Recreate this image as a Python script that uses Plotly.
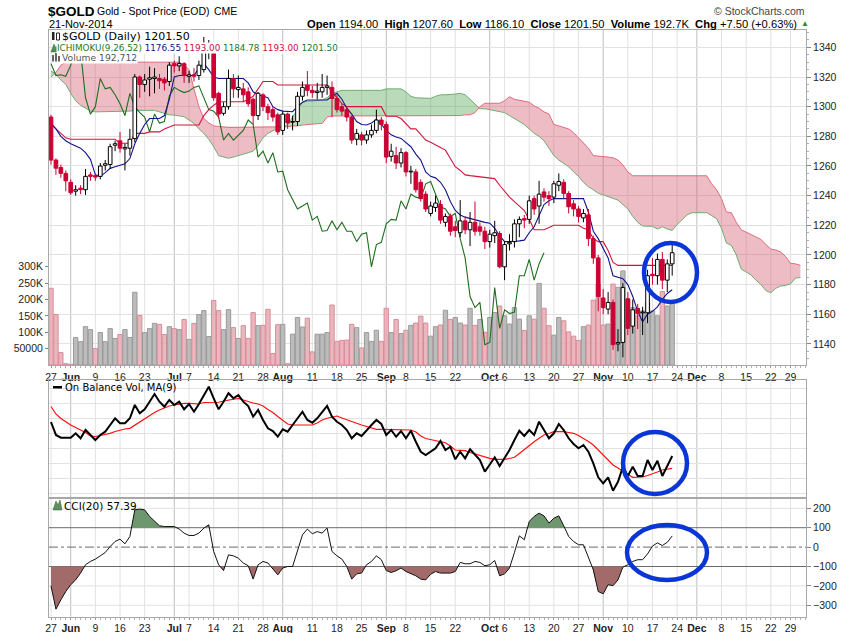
import plotly.graph_objects as go
import pandas as pd

# ---------------- data ----------------
HOLIDAYS = ["2014-07-04", "2014-09-01", "2014-11-27", "2014-12-25"]
START, END = "2014-05-27", "2014-12-31"

TICK_DATES = ["2014-05-27", "2014-06-02", "2014-06-09", "2014-06-16", "2014-06-23",
              "2014-07-01", "2014-07-07", "2014-07-14", "2014-07-21", "2014-07-28",
              "2014-08-01", "2014-08-11", "2014-08-18", "2014-08-25", "2014-09-02",
              "2014-09-08", "2014-09-15", "2014-09-22", "2014-10-01", "2014-10-06",
              "2014-10-13", "2014-10-20", "2014-10-27", "2014-11-03", "2014-11-10",
              "2014-11-17", "2014-11-24", "2014-12-01", "2014-12-08", "2014-12-15",
              "2014-12-22", "2014-12-29"]
TICK_LABELS = ["27", "Jun", "9", "16", "23", "Jul", "7", "14", "21", "28", "Aug", "11",
               "18", "25", "Sep", "8", "15", "22", "Oct", "6", "13", "20", "27", "Nov",
               "10", "17", "24", "Dec", "8", "15", "22", "29"]
MONTHS = ["Jun", "Jul", "Aug", "Sep", "Oct", "Nov", "Dec"]

OPEN = [1293, 1264, 1259, 1255, 1249, 1243, 1245, 1244, 1254, 1253.5,
        1253, 1260.5, 1261, 1274, 1277, 1271.5, 1272, 1278.5, 1320, 1315,
        1318.5, 1319, 1319, 1318.5, 1317, 1329, 1327.5, 1329, 1320.5, 1321.5,
        1321, 1325, 1337, 1336, 1309, 1295.5, 1300, 1319, 1311.5, 1312,
        1310, 1305, 1294, 1308, 1300, 1298, 1294.5, 1284, 1295, 1289.5,
        1290, 1307, 1314.5, 1311, 1309.5, 1310, 1313, 1313, 1305.5, 1300,
        1298, 1293, 1278, 1281, 1277.5, 1281, 1284, 1291, 1288, 1266.5,
        1267, 1262, 1269, 1256, 1256, 1249, 1241, 1228, 1232, 1234,
        1222, 1226, 1219, 1215, 1223, 1217, 1222, 1219, 1216, 1209,
        1213, 1214.5, 1192, 1207.5, 1209, 1221, 1224.5, 1224, 1238, 1233,
        1242.5, 1240, 1239, 1247, 1249, 1241.5, 1234.5, 1231, 1225, 1227,
        1211, 1198, 1171, 1163.5, 1168, 1140, 1141, 1170.5, 1152, 1164,
        1161, 1161, 1187, 1186, 1197, 1183, 1194]
HIGH = [1294.5, 1265, 1261, 1257, 1251, 1247, 1247, 1258, 1256, 1255,
        1262, 1264, 1275, 1277, 1283, 1275, 1285, 1322, 1321, 1322,
        1327, 1326, 1322, 1320, 1330, 1331, 1334, 1330, 1324, 1326,
        1331, 1347, 1345, 1338, 1310, 1303, 1325, 1322, 1321, 1316,
        1313, 1306, 1310, 1309, 1302, 1300, 1296, 1297, 1296, 1294,
        1310, 1317, 1324, 1314, 1316, 1322, 1321, 1317, 1308, 1302,
        1300, 1294, 1285, 1283, 1284, 1288, 1298, 1293, 1290, 1275,
        1273, 1272, 1270, 1260, 1258, 1251, 1243, 1236, 1240, 1237,
        1228, 1228, 1223, 1237, 1226, 1229, 1236, 1222, 1219, 1217,
        1223, 1216, 1209, 1214, 1224, 1226, 1227, 1240, 1240, 1250,
        1245, 1243, 1250, 1255, 1251, 1243, 1237, 1233, 1231, 1231,
        1213, 1200, 1177, 1175, 1170, 1150, 1181, 1175, 1170, 1167,
        1165, 1190, 1198, 1201, 1202, 1197, 1207.6]
LOW = [1261, 1254, 1252, 1243, 1240.5, 1240, 1241, 1240.5, 1250, 1250,
       1251, 1257, 1258, 1270, 1269, 1257, 1267, 1276, 1306, 1310,
       1307, 1309, 1312, 1311, 1314, 1323, 1324, 1316, 1316, 1317,
       1318, 1323, 1332, 1304, 1292, 1294, 1298, 1306, 1306, 1303,
       1300, 1288, 1291, 1297, 1291, 1290, 1281, 1281, 1285, 1284,
       1287, 1304, 1307, 1306, 1305, 1306, 1308, 1293, 1296, 1294,
       1290, 1275, 1274, 1274, 1275, 1279, 1282, 1284, 1262, 1263,
       1258, 1259, 1253, 1248, 1242, 1236, 1229, 1226, 1229, 1221,
       1219, 1213, 1212, 1212, 1214, 1206, 1213, 1213, 1204, 1205,
       1208, 1191, 1183, 1203, 1205, 1212, 1218, 1221, 1227, 1221,
       1236, 1233, 1235, 1243, 1238, 1228, 1226, 1222, 1222, 1206,
       1194, 1162, 1160, 1160, 1136, 1135, 1131, 1146, 1147, 1150,
       1146, 1154, 1180, 1180, 1177, 1175, 1186.1]
CLOSE = [1264, 1258.5, 1255, 1250, 1242, 1244, 1244, 1253, 1253, 1252.5,
         1260, 1261.5, 1273, 1275, 1272, 1272.5, 1278, 1320, 1315, 1318,
         1319.5, 1320, 1317.5, 1316, 1328, 1327.5, 1329, 1321, 1321.5, 1320.5,
         1328, 1337, 1337.5, 1306, 1295, 1300, 1319, 1312, 1313, 1308,
         1302, 1294, 1309, 1300, 1296, 1293, 1283, 1295, 1289, 1290,
         1307, 1313, 1311, 1309.5, 1310.5, 1313, 1314, 1305.5, 1298, 1297,
         1293, 1277.5, 1282, 1277.5, 1281, 1284, 1291, 1288, 1266, 1270,
         1262, 1269, 1256, 1256.5, 1244, 1238, 1231, 1233, 1235, 1223.5,
         1226, 1216, 1216.5, 1223, 1217, 1222, 1216, 1216, 1209, 1214,
         1215, 1192, 1207, 1208.5, 1221, 1224, 1223.5, 1236.5, 1231, 1241,
         1239, 1238, 1248, 1249.5, 1241.5, 1232.5, 1231, 1226, 1228, 1211,
         1198, 1172, 1164.5, 1168, 1139.5, 1141, 1178, 1150.5, 1163, 1160.5,
         1161.5, 1186, 1186, 1197, 1183, 1194, 1201.5]
VOLUME_K = [234, 154, 38, 4, 2, 84, 71, 117, 108, 50,
            99, 71, 111, 81, 93, 108, 84, 222, 151, 99,
            111, 127, 124, 93, 117, 111, 108, 139, 78, 127,
            154, 166, 87, 197, 166, 108, 169, 114, 81, 120,
            81, 160, 120, 121, 170, 35, 123, 124, 4, 94,
            145, 116, 143, 40, 94, 94, 99, 183, 72, 75,
            76, 124, 114, 52, 99, 72, 106, 72, 173, 99,
            139, 96, 106, 121, 128, 149, 128, 88, 117, 122,
            167, 139, 145, 128, 122, 173, 121, 139, 100, 145,
            160, 180, 150, 125, 175, 140, 105, 150, 140, 249,
            173, 120, 91, 145, 135, 101, 88, 75, 117, 122,
            198, 247, 122, 125, 247, 237, 287, 200, 175, 150,
            165, 190, 165, 150, 224, 180, 192.712]
TENKAN = [1289, 1285, 1280, 1277, 1275, 1273.5, 1272, 1269, 1264.5, 1254,
          1253, 1255.5, 1258.4, 1259.5, 1260.7, 1261.5, 1265, 1275, 1282, 1288,
          1292, 1292, 1292, 1294, 1305, 1320, 1321, 1321, 1321, 1321,
          1326, 1329, 1325, 1320, 1319, 1319, 1319, 1319, 1319, 1319,
          1316, 1310, 1308, 1307, 1306, 1300, 1298, 1297, 1296.6, 1296.6,
          1300, 1303, 1304.5, 1304.5, 1304.5, 1304.5, 1304.5, 1307, 1309, 1305,
          1299, 1295, 1290, 1288, 1287.6, 1289, 1291.4, 1288, 1284, 1281,
          1279.5, 1278.6, 1276, 1273, 1268, 1264, 1256, 1253, 1252, 1249,
          1244, 1236, 1230, 1227, 1225.5, 1224.5, 1224, 1223, 1222, 1221.4,
          1218, 1213, 1209, 1209, 1209, 1209.5, 1210, 1215, 1219, 1226,
          1234, 1236.5, 1238, 1238, 1238, 1238, 1238, 1238, 1238, 1229,
          1216, 1211, 1205, 1198, 1186, 1185, 1184, 1180, 1172, 1162,
          1155, 1160, 1162, 1165, 1170, 1174, 1176.55]
KIJUN = [1288, 1285, 1282, 1279, 1278, 1278, 1278, 1278, 1278, 1278,
         1278, 1278, 1278, 1278, 1275.3, 1275.3, 1275.3, 1282, 1282, 1282,
         1283, 1283, 1283, 1285, 1286.5, 1287.6, 1287.6, 1287.6, 1287.6, 1287.6,
         1287.6, 1294, 1298, 1301, 1303.3, 1303.3, 1303.3, 1303.3, 1303.3, 1303.3,
         1305, 1307, 1312, 1317, 1317, 1317, 1314.6, 1314.6, 1314.6, 1314.6,
         1314.6, 1314.6, 1314.6, 1314.6, 1314.6, 1314.6, 1314.6, 1310, 1306, 1302,
         1300, 1300, 1300, 1300, 1300, 1300, 1300, 1300, 1293.5, 1293.5,
         1293.5, 1292, 1288.5, 1285, 1285, 1281, 1277.5, 1276, 1274, 1272.5,
         1270.7, 1265, 1259.5, 1257, 1254, 1253.5, 1253, 1253, 1252.5, 1252,
         1251.5, 1247, 1243, 1239, 1236, 1233, 1230, 1224, 1217, 1217,
         1217, 1218.5, 1220, 1220, 1220, 1220, 1220, 1220, 1218, 1217,
         1211, 1209, 1209, 1203, 1195, 1193, 1193, 1193, 1193, 1193,
         1193, 1193, 1193, 1193, 1193, 1193, 1193]
SPAN_A = [1324, 1322, 1318, 1315, 1309, 1304, 1301, 1299, 1297, 1296.5,
          1296.5, 1296.5, 1296.5, 1296.5, 1296.5, 1296.5, 1297, 1297.5, 1297.5, 1297.5,
          1297.5, 1297.5, 1296.5, 1295.5, 1294.5, 1294.3, 1294, 1293.2, 1291, 1288.7,
          1285, 1282, 1278, 1273, 1267, 1266, 1265.2, 1266, 1267, 1268,
          1268.5, 1270, 1274, 1279, 1282, 1284, 1285.5, 1286.5, 1288, 1293,
          1298, 1303, 1303.5, 1304, 1304.5, 1304.5, 1306, 1309, 1310, 1311,
          1311, 1311, 1311, 1311, 1311, 1311, 1311, 1311, 1312, 1312,
          1312, 1312, 1310, 1307, 1306, 1306, 1305.6, 1305.6, 1307, 1308,
          1308, 1308, 1308.5, 1309, 1308, 1305, 1302, 1298.6, 1298.6, 1298,
          1297.5, 1297, 1296, 1294, 1292, 1290, 1288, 1285, 1282, 1280,
          1277, 1272, 1267, 1264, 1261.5, 1259.5, 1256, 1253, 1249, 1246,
          1244, 1241.6, 1240.5, 1239.3, 1238, 1237, 1234, 1231, 1226, 1222,
          1219.5, 1219.5, 1219.3, 1217.5, 1219, 1217.5, 1216.5, 1220.5, 1224, 1227,
          1228.5, 1228.5, 1228.5, 1228.5, 1226.5, 1224.5, 1218, 1208, 1206.5, 1200,
          1190.5, 1188.5, 1186.5, 1183, 1180, 1176, 1174.5, 1177.5, 1179, 1179.5,
          1180.5, 1184.4, 1184.78]
SPAN_B = [1320, 1323, 1328, 1330, 1330, 1330, 1330, 1330, 1330, 1330,
          1330, 1330, 1330, 1330, 1330, 1330, 1330, 1330, 1330, 1330,
          1330, 1330, 1330, 1330, 1330, 1330, 1330, 1328, 1325, 1312,
          1300, 1292, 1289, 1287, 1286.5, 1286, 1286, 1286, 1286, 1286,
          1286, 1286, 1286, 1286.5, 1286.5, 1286.5, 1286.5, 1286.5, 1286.5, 1287,
          1287, 1287.6, 1288, 1288, 1288.5, 1288.7, 1293, 1293.7, 1293.7, 1293.7,
          1293.7, 1293.7, 1293.7, 1293.7, 1293.7, 1293.7, 1293.7, 1293.7, 1293.7, 1293.7,
          1293.7, 1293.7, 1293.7, 1293.7, 1293.7, 1293.7, 1293.7, 1293.7, 1293.7, 1293.7,
          1293.7, 1293.7, 1293.7, 1294, 1294.5, 1294.5, 1296, 1300, 1302.3, 1302.3,
          1302.3, 1302.3, 1304, 1306.7, 1305, 1304.5, 1304, 1303, 1300.5, 1299,
          1296.5, 1295, 1288, 1287, 1286, 1285, 1282.5, 1279, 1276, 1272,
          1267, 1266.8, 1266.5, 1266, 1265.5, 1264, 1260.7, 1256, 1253.4, 1253.4,
          1253.4, 1253.4, 1253.4, 1253.4, 1253.4, 1253.4, 1253.4, 1253.4, 1253.4, 1253.4,
          1253.4, 1253.4, 1253.4, 1253.4, 1248, 1244, 1238, 1229, 1228.5, 1222,
          1217, 1215.5, 1214, 1212, 1210.5, 1207, 1204, 1203.3, 1202, 1199,
          1194.4, 1194, 1193]
OBV_K = [1188, 972, 927, 927, 927, 1000, 917, 1055, 972, 888,
         972, 1027, 1138, 1250, 1167, 1167, 1250, 1472, 1333, 1400,
         1527, 1655, 1527, 1443, 1555, 1472, 1527, 1400, 1488, 1360,
         1488, 1638, 1777, 1583, 1400, 1527, 1667, 1583, 1638, 1527,
         1455, 1277, 1388, 1222, 1083, 1038, 943, 1067, 1027, 1138,
         1250, 1360, 1222, 1177, 1250, 1350, 1455, 1277, 1193, 1138,
         1055, 917, 1000, 955, 1055, 1138, 1222, 1155, 972, 1055,
         943, 1038, 917, 1043, 860, 693, 638, 693, 750, 872,
         722, 777, 567, 693, 583, 733, 638, 555, 360, 472,
         600, 455, 583, 722, 888, 1043, 955, 1055, 972, 1193,
         1055, 917, 1000, 1155, 1055, 917, 822, 750, 805, 693,
         500, 267, 167, 267, 43, 193, 443, 288, 443, 288,
         288, 555, 388, 543, 288, 443, 622]
OBV_MA9_K = [1447, 1322, 1247, 1188, 1138, 1097, 1055, 1013, 955, 947,
             963, 980, 1000, 1030, 1055, 1072, 1083, 1138, 1193, 1247,
             1305, 1347, 1388, 1422, 1455, 1472, 1488, 1497, 1500, 1497,
             1488, 1513, 1517, 1517, 1517, 1538, 1555, 1572, 1583, 1555,
             1527, 1505, 1488, 1455, 1397, 1347, 1280, 1222, 1155, 1138,
             1138, 1138, 1138, 1138, 1172, 1222, 1250, 1272, 1288, 1255,
             1222, 1193, 1167, 1138, 1110, 1088, 1067, 1067, 1067, 1063,
             1055, 1055, 1055, 1055, 1022, 955, 913, 897, 877, 863,
             843, 788, 722, 717, 710, 680, 655, 630, 600, 583,
             567, 567, 567, 580, 600, 663, 733, 797, 860, 917,
             972, 997, 1027, 1027, 1027, 1013, 1000, 963, 917, 863,
             805, 722, 638, 555, 472, 422, 360, 313, 267, 267,
             272, 297, 322, 355, 388, 405, 417]
CCI20 = [-200, -320, -272, -229, -194, -169, -134, -91, -74, -62,
         -45, -28, 3, 29, 41, 17, 55, 192, 196, 192,
         158, 132, 110, 106, 106, 106, 93, 72, 60, 60,
         72, 98, 115, -23, -91, -121, -40, -45, -57, -82,
         -96, -165, -91, -74, -82, -113, -143, -108, -100, -100,
         -23, 63, 93, 69, 80, 72, 98, -23, -45, -62,
         -100, -165, -138, -134, -91, -74, -45, -65, -121, -131,
         -122, -108, -126, -138, -148, -165, -169, -140, -126, -134,
         -134, -134, -126, -79, -86, -86, -74, -79, -96, -91,
         -69, -148, -138, -108, -28, 58, 38, 132, 158, 175,
         161, 124, 149, 161, 110, 55, 29, 12, 12, -48,
         -117, -229, -241, -194, -199, -169, -103, -91, -74, -65,
         -65, -35, 5, 22, 8, 25, 57.39]

PRICE_TICKS = [1140, 1160, 1180, 1200, 1220, 1240, 1260, 1280, 1300, 1320, 1340]
VOL_TICKS = [50, 100, 150, 200, 250, 300]
VOL_TICK_TEXT = ["50000", "100K", "150K", "200K", "250K", "300K"]
CCI_TICKS = [-300, -200, -100, 0, 100, 200]
CCI_LEVELS = [100, -100]
CHIKOU_SHIFT = 26

# ---------------- layout helpers ----------------
W, H = 850, 633
SANS = "Liberation Sans, Arial, sans-serif"
VERD = "DejaVu Sans, Verdana, sans-serif"
GRID = "#e2e2e2"
MONTH_GRID = "#bdbdbd"
BORDER = "#a8a8a8"
AXFONT = dict(family=SANS, size=10.5, color="#222")


def px_x(x):
    return x / W


def px_y(y):
    return 1 - y / H


XD = [px_x(49), px_x(806)]
MAIN_D = [px_y(365), px_y(30)]
OBV_D = [px_y(497.7), px_y(380)]
CCI_D = [px_y(616.7), px_y(498)]
XR = [-0.406, 153.14]
PR = [1125.8, 1351.7]
VR = [0, 1022]
OBV_R = [-73, 1888]
CCI_R = [-358.8, 253.1]

hol = set(pd.to_datetime(HOLIDAYS))
days = [d for d in pd.bdate_range(START, END) if d not in hol]
pos = {d: k for k, d in enumerate(days)}
tick_x = [pos[pd.Timestamp(t)] for t in TICK_DATES]
tick_text = ["<b>%s</b>" % t if t in MONTHS else t for t in TICK_LABELS]
is_month = [t in MONTHS for t in TICK_LABELS]

n = len(CLOSE)
xi = list(range(n))
cx = list(range(len(SPAN_A)))


def regions(xs, a, b):
    out = []
    rx, ra, rb = [xs[0]], [a[0]], [b[0]]
    sgn = a[0] >= b[0]
    for k in range(1, len(xs)):
        s = a[k] >= b[k]
        if s != sgn:
            d0 = a[k - 1] - b[k - 1]
            d1 = a[k] - b[k]
            t = d0 / (d0 - d1)
            xc = xs[k - 1] + t * (xs[k] - xs[k - 1])
            yc = a[k - 1] + t * (a[k] - a[k - 1])
            rx.append(xc); ra.append(yc); rb.append(yc)
            out.append((rx, ra, rb, sgn))
            rx, ra, rb = [xc], [yc], [yc]
            sgn = s
        rx.append(xs[k]); ra.append(a[k]); rb.append(b[k])
    out.append((rx, ra, rb, sgn))
    return out


def polys(regs, want):
    px, py = [], []
    for rx, ra, rb, s in regs:
        if s != want or len(rx) < 2:
            continue
        px += rx + rx[::-1] + [None]
        py += ra + rb[::-1] + [None]
    return px, py


fig = go.Figure()

# ---- volume (base subplot, behind everything) ----
vol_col, vol_line = [], []
for k in range(n):
    down = k == 0 or CLOSE[k] < CLOSE[k - 1]
    vol_col.append("rgba(232,170,180,0.85)" if down else "rgba(184,184,184,0.95)")
    vol_line.append("#d88c98" if down else "#9a9a9a")
fig.add_trace(go.Bar(x=xi, y=VOLUME_K, width=0.88,
                     marker=dict(color=vol_col, line=dict(color=vol_line, width=1)),
                     xaxis="x", yaxis="y", hoverinfo="skip"))

# ---- Ichimoku cloud ----
cregs = regions(cx, SPAN_A, SPAN_B)
gx, gy = polys(cregs, True)
rx_, ry_ = polys(cregs, False)
fig.add_trace(go.Scatter(x=gx, y=gy, mode="lines", fill="toself", line=dict(width=0),
                         fillcolor="rgba(80,165,80,0.40)", xaxis="x", yaxis="y5", hoverinfo="skip"))
fig.add_trace(go.Scatter(x=rx_, y=ry_, mode="lines", fill="toself", line=dict(width=0),
                         fillcolor="rgba(212,88,110,0.40)", xaxis="x", yaxis="y5", hoverinfo="skip"))
fig.add_trace(go.Scatter(x=cx, y=SPAN_B, mode="lines", line=dict(color="#e06c7e", width=1),
                         xaxis="x", yaxis="y5", hoverinfo="skip"))
fig.add_trace(go.Scatter(x=cx, y=SPAN_A, mode="lines", line=dict(color="#6fae6f", width=1),
                         xaxis="x", yaxis="y5", hoverinfo="skip"))
fig.add_trace(go.Scatter(x=xi[:n - CHIKOU_SHIFT], y=CLOSE[CHIKOU_SHIFT:], mode="lines",
                         line=dict(color="#1d6e1d", width=1.1), xaxis="x", yaxis="y5", hoverinfo="skip"))
fig.add_trace(go.Scatter(x=xi, y=KIJUN, mode="lines", line=dict(color="#d4143e", width=1.1),
                         xaxis="x", yaxis="y5", hoverinfo="skip"))
fig.add_trace(go.Scatter(x=xi, y=TENKAN, mode="lines", line=dict(color="#14148c", width=1.1),
                         xaxis="x", yaxis="y5", hoverinfo="skip"))

# ---- candles ----
up = [k for k in range(n) if CLOSE[k] >= OPEN[k]]
dn = [k for k in range(n) if CLOSE[k] < OPEN[k]]


def wicks(ks):
    xs, ys = [], []
    for k in ks:
        top, bot = max(OPEN[k], CLOSE[k]), min(OPEN[k], CLOSE[k])
        xs += [k, k, None, k, k, None]
        ys += [HIGH[k], top, None, bot, LOW[k], None]
    return xs, ys


RED = "#cc0033"
for ks, col, fill in [(up, "#000000", "#ffffff"), (dn, RED, RED)]:
    wx, wy = wicks(ks)
    fig.add_trace(go.Bar(x=ks, y=[max(abs(CLOSE[k] - OPEN[k]), 0.4) for k in ks],
                         base=[min(OPEN[k], CLOSE[k]) for k in ks], width=0.74,
                         marker=dict(color=fill, line=dict(color=col, width=1)),
                         xaxis="x", yaxis="y6", hoverinfo="skip"))
    fig.add_trace(go.Scatter(x=wx, y=wy, mode="lines", line=dict(color=col, width=1),
                             xaxis="x", yaxis="y6", hoverinfo="skip"))

# ---- OBV panel ----
fig.add_trace(go.Scatter(x=xi, y=OBV_MA9_K, mode="lines", line=dict(color="#ff1010", width=1.2),
                         xaxis="x2", yaxis="y2", hoverinfo="skip"))
fig.add_trace(go.Scatter(x=xi, y=OBV_K, mode="lines", line=dict(color="#000000", width=2),
                         xaxis="x2", yaxis="y2", hoverinfo="skip"))

# ---- CCI panel ----
hi_regs = regions(xi, CCI20, [CCI_LEVELS[0]] * n)
lo_regs = regions(xi, [CCI_LEVELS[1]] * n, CCI20)
hx, hy = polys(hi_regs, True)
lx, ly = polys(lo_regs, True)
fig.add_trace(go.Scatter(x=hx, y=hy, mode="lines", fill="toself", line=dict(width=0),
                         fillcolor="#6f976f", xaxis="x3", yaxis="y3", hoverinfo="skip"))
fig.add_trace(go.Scatter(x=lx, y=ly, mode="lines", fill="toself", line=dict(width=0),
                         fillcolor="#a36a6a", xaxis="x3", yaxis="y3", hoverinfo="skip"))
fig.add_trace(go.Scatter(x=xi, y=CCI20, mode="lines", line=dict(color="#111111", width=1),
                         xaxis="x3", yaxis="y3", hoverinfo="skip"))

# ---------------- axes ----------------
xcommon = dict(domain=XD, range=XR, tickmode="array", tickvals=tick_x, showgrid=False,
               showline=True, mirror=True, linecolor=BORDER, zeroline=False, fixedrange=True)
minor_x = dict(tickmode="linear", tick0=0, dtick=1, ticks="outside", ticklen=2,
               tickcolor="#b0b0b0", showgrid=False)
layout = dict(
    width=W, height=H, margin=dict(l=0, r=0, t=0, b=0, autoexpand=False),
    paper_bgcolor="white", plot_bgcolor="white", showlegend=False, barmode="overlay",
    xaxis=dict(**xcommon, anchor="y", ticktext=tick_text, ticks="outside", ticklen=2,
               tickcolor="#999", tickfont=AXFONT, minor=minor_x),
    yaxis=dict(domain=MAIN_D, range=VR, side="left", tickmode="array", tickvals=VOL_TICKS,
               ticktext=VOL_TICK_TEXT, showgrid=False, ticks="outside", ticklen=3,
               tickcolor="#888", tickfont=AXFONT, showline=True, mirror=True,
               linecolor=BORDER, zeroline=False, anchor="x"),
    yaxis5=dict(overlaying="y", side="right", range=PR, tickmode="array", tickvals=PRICE_TICKS,
                showgrid=True, gridcolor=GRID, ticks="outside", ticklen=4, tickcolor="#888",
                tickfont=AXFONT, zeroline=False, anchor="x",
                minor=dict(tickmode="linear", tick0=1140, dtick=5, ticks="outside", ticklen=2,
                           tickcolor="#b0b0b0", showgrid=False)),
    yaxis6=dict(overlaying="y", range=PR, visible=False, anchor="x"),
    xaxis2=dict(**xcommon, anchor="y2", matches="x", showticklabels=False, ticks=""),
    yaxis2=dict(domain=OBV_D, range=OBV_R, anchor="x2", tickmode="linear", tick0=0, dtick=250,
                showticklabels=False, showgrid=True, gridcolor=GRID, showline=True,
                mirror=True, linecolor=BORDER, zeroline=False, ticks=""),
    xaxis3=dict(**xcommon, anchor="y3", matches="x", ticktext=tick_text, ticks="outside",
                ticklen=2, tickcolor="#999", tickfont=AXFONT, minor=minor_x),
    yaxis3=dict(domain=CCI_D, range=CCI_R, anchor="x3", side="right", tickmode="array",
                tickvals=CCI_TICKS, showgrid=False, showline=True, mirror=True,
                linecolor=BORDER, zeroline=False, ticks="outside", ticklen=4, tickcolor="#888",
                tickfont=AXFONT),
)
fig.update_layout(**layout)

shapes = []
# vertical weekly / monthly grid lines in every panel
for xa, ya in [("x", "y"), ("x2", "y2"), ("x3", "y3")]:
    for tx, mo in zip(tick_x, is_month):
        shapes.append(dict(type="line", xref=xa, yref=ya + " domain", x0=tx, x1=tx, y0=0, y1=1,
                           line=dict(color=MONTH_GRID if mo else GRID, width=1), layer="below"))
# CCI horizontal grid + signal levels
for tv in CCI_TICKS:
    if tv in CCI_LEVELS:
        ln = dict(color="#6a6a6a", width=1)
    elif tv == 0:
        ln = dict(color="#6a6a6a", width=1, dash="dashdot")
    else:
        ln = dict(color=GRID, width=1)
    shapes.append(dict(type="line", xref="x3 domain", yref="y3", x0=0, x1=1, y0=tv, y1=tv,
                       line=ln, layer="below"))


def pshape(kind, x0, y0, x1, y1, **kw):
    d = dict(type=kind, xref="paper", yref="paper", x0=px_x(x0), x1=px_x(x1),
             y0=px_y(y1), y1=px_y(y0))
    d.update(kw)
    return d


# hand-drawn blue ellipses
BLUE = "#0a36d6"
for (x0, y0, x1, y1) in [(644, 243, 697, 302), (623, 432, 687, 494), (627, 525, 707, 580)]:
    shapes.append(pshape("circle", x0, y0, x1, y1, line=dict(color=BLUE, width=4.5)))

# small legend icons
shapes.append(pshape("rect", 52, 32, 54.5, 40, fillcolor="#222", line=dict(width=0)))
shapes.append(pshape("rect", 56.5, 33, 59.5, 40, fillcolor="white", line=dict(color="#222", width=1)))
shapes.append(dict(type="path", xref="paper", yref="paper",
                   path="M %f %f L %f %f L %f %f L %f %f L %f %f Z" % (
                       px_x(51), px_y(52), px_x(54), px_y(44), px_x(56), px_y(48),
                       px_x(58.5), px_y(43.5), px_x(60), px_y(52)),
                   fillcolor="#4f8f4f", line=dict(color="#2f6f2f", width=0.5)))
for bx, bt in [(52, 55), (55, 53), (58, 56)]:
    shapes.append(pshape("rect", bx, bt, bx + 2, 61.5, fillcolor="#666", line=dict(width=0)))
shapes.append(pshape("rect", 53, 386, 62, 388.5, fillcolor="#000", line=dict(width=0)))
shapes.append(dict(type="path", xref="paper", yref="paper",
                   path="M %f %f L %f %f L %f %f L %f %f L %f %f Z" % (
                       px_x(53), px_y(510), px_x(56), px_y(501), px_x(58), px_y(505),
                       px_x(60), px_y(500), px_x(62), px_y(510)),
                   fillcolor="#5f8f5f", line=dict(color="#2f5f2f", width=0.5)))
fig.update_layout(shapes=shapes)


def ann(x, y, text, size, color="#000", family=SANS, xanchor="left", bg=None):
    d = dict(x=px_x(x), y=px_y(y), xref="paper", yref="paper", text=text, showarrow=False,
             xanchor=xanchor, yanchor="middle", font=dict(size=size, color=color, family=family),
             borderpad=0)
    if bg:
        d["bgcolor"] = bg
    return d


chg = CLOSE[-1] - CLOSE[-2]
pct = chg / CLOSE[-2] * 100
sp = "\u00a0"
hdr = (f"<b>Open</b> {OPEN[-1]:.2f}{sp}{sp}<b>High</b> {HIGH[-1]:.2f}{sp}{sp}"
       f"<b>Low</b> {LOW[-1]:.2f}{sp}{sp}<b>Close</b> {CLOSE[-1]:.2f}{sp}{sp}"
       f"<b>Volume</b> {VOLUME_K[-1]:.1f}K{sp}{sp}<b>Chg</b> {chg:+.2f} ({pct:+.2f}%)")
ichi = (f'<span style="color:#1d7a1d">ICHIMOKU(9,26,52)</span> '
        f'<span style="color:#14148c">{TENKAN[-1]:.2f}</span> '
        f'<span style="color:#cc1040">{KIJUN[-1]:.2f}</span> '
        f'<span style="color:#1d7a1d">{SPAN_A[-1]:.2f}</span> '
        f'<span style="color:#cc1040">{SPAN_B[-1]:.2f}</span> '
        f'<span style="color:#1d7a1d">{CLOSE[-1]:.2f}</span>')
anns = [
    ann(47, 11, "<b>$GOLD</b>", 13.5),
    ann(96, 11, "Gold - Spot Price (EOD)", 10.5),
    ann(213, 11.5, "CME", 10.5),
    ann(48, 23.5, "21-Nov-2014", 11),
    ann(798, 23.5, hdr, 11.2, xanchor="right"),
    ann(800, 23, "\u25b2", 8, color="#2e8b2e"),
    ann(806, 10.5, "\u00a9 StockCharts.com", 10.5, color="#444", xanchor="right"),
    ann(61, 36.5, f"$GOLD (Daily) {CLOSE[-1]:.2f}", 11, family=VERD, bg="white"),
    ann(56, 47.8, ichi, 8.8, family=VERD, bg="white"),
    ann(61, 57.5, f"Volume {VOLUME_K[-1] * 1000:,.0f}", 9.2, color="#555", family=VERD, bg="white"),
    ann(64, 387.5, "On Balance Vol, MA(9)", 10, family=VERD),
    ann(63, 505.5, f"CCI(20) {CCI20[-1]:.2f}", 10.5, family=VERD),
]
fig.update_layout(annotations=anns)

fig.write_html("out.html", config={"displayModeBar": False, "staticPlot": True},
               post_script="document.body.style.margin='0';document.body.style.padding='0';"
                           "document.body.style.overflow='hidden';")
